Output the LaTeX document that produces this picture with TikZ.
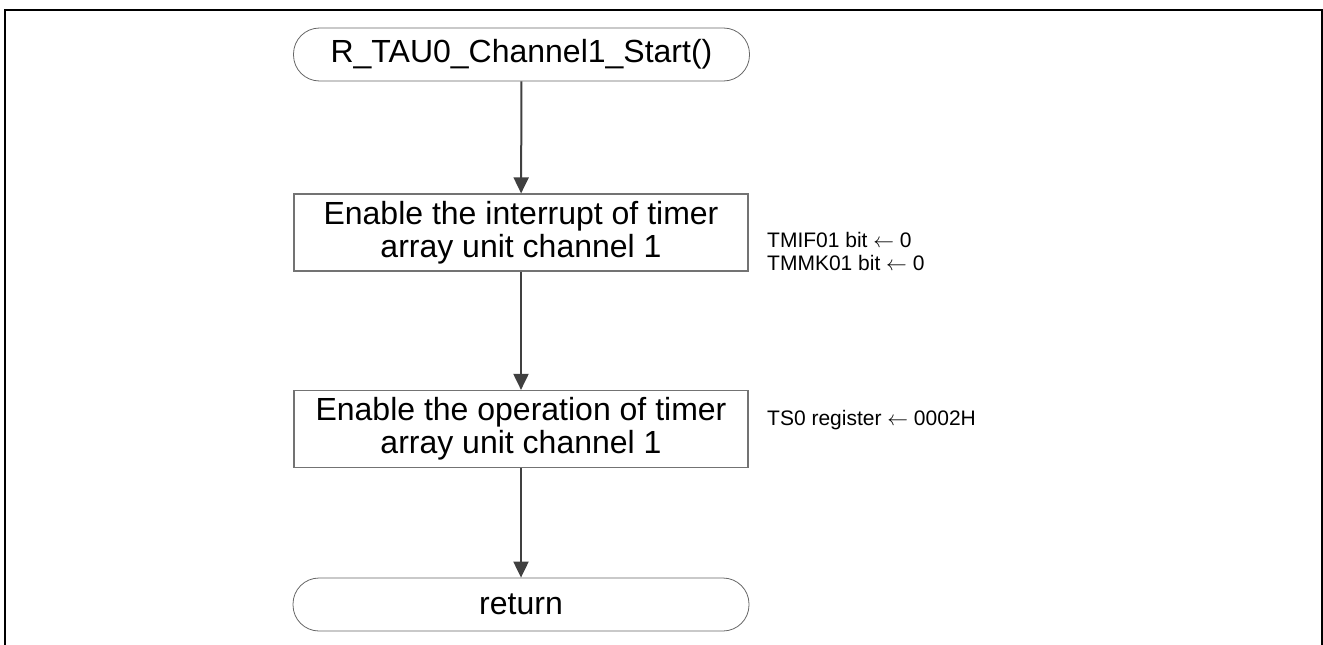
\documentclass[tikz,border=0pt]{standalone}
\usepackage{fontspec}
\setmainfont{Liberation Sans}
\usetikzlibrary{arrows.meta}

\begin{document}
\begin{tikzpicture}[x=1pt, y=-1pt,
    terminal/.style={draw=black!60, line width=0.8pt, rounded corners=26pt,
      minimum width=456pt, minimum height=53pt, inner sep=0pt,
      font=\fontsize{32}{33}\selectfont},
    process/.style={draw=black!55, line width=1.2pt,
      minimum width=454pt, minimum height=77pt, inner sep=0pt, align=center,
      font=\fontsize{32}{33}\selectfont},
    note/.style={anchor=west, inner sep=0pt, align=left,
      font=\fontsize{21}{22.5}\selectfont},
    flow/.style={draw=black!75, line width=2pt,
      -{Triangle[length=16pt, width=15pt]}}]
    \useasboundingbox (0,0) rectangle (1323,645);

    % Frame
    \draw[line width=2pt] (5,645) -- (5,10) -- (1322,10) -- (1322,645);

    % Steps
    \node[terminal] (start) at (521.5,54.5) {R\_TAU0\_Channel1\_Start()};
    \node[process] (intr) at (521,232.5)
      {Enable the interrupt of timer\\array unit channel 1};
    \node[process] (oper) at (521,429)
      {Enable the operation of timer\\array unit channel 1};
    \node[terminal] (ret) at (521,604.5) {return};

    % Notes
    \node[note] (intrnote) at (767,251.5)
      {TMIF01 bit \(\leftarrow\) 0\\TMMK01 bit \(\leftarrow\) 0};
    \node[note] (opernote) at (767,420) {TS0 register \(\leftarrow\) 0002H};

    % Connectors
    \draw[flow] (start) -- (intr);
    \draw[flow] (intr) -- (oper);
    \draw[flow] (oper) -- (ret);
  \end{tikzpicture}
\end{document}
